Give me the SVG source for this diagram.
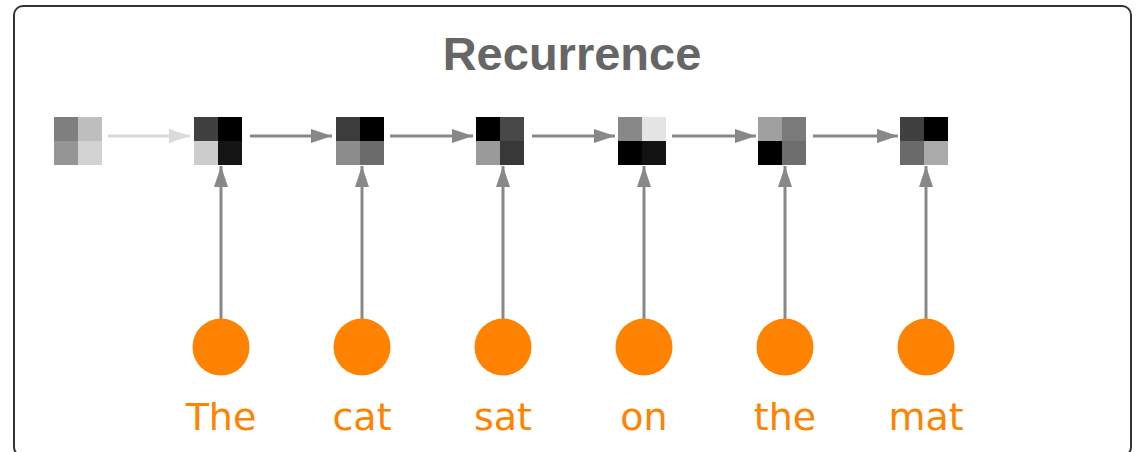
<svg xmlns="http://www.w3.org/2000/svg" width="1142" height="452" viewBox="0 0 1142 452">
  <style>
    .frame { fill: #ffffff; stroke: #333333; stroke-width: 2; }
    .title { font-family: "Liberation Sans", Arial, sans-serif; font-weight: bold; font-size: 47px; fill: #666666; text-anchor: middle; }
    .word { font-family: "DejaVu Sans", Verdana, sans-serif; font-size: 38px; fill: #ff8200; text-anchor: middle; }
    .token { fill: #ff8200; }
    .link { stroke: #888888; stroke-width: 3; fill: none; marker-end: url(#head); }
    .link-faint { stroke: #dadada; stroke-width: 3; fill: none; marker-end: url(#head-faint); }
  </style>
  <defs>
    <marker id="head" markerUnits="userSpaceOnUse" markerWidth="21" markerHeight="14" refX="21" refY="7" orient="auto">
      <path d="M0,0 L21,7 L0,14 Z" fill="#888888"/>
    </marker>
    <marker id="head-faint" markerUnits="userSpaceOnUse" markerWidth="21" markerHeight="14" refX="21" refY="7" orient="auto">
      <path d="M0,0 L21,7 L0,14 Z" fill="#dadada"/>
    </marker>
  </defs>

  <rect class="frame" x="14" y="6" width="1117" height="450" rx="9" ry="9"/>
  <text class="title" x="572" y="70">Recurrence</text>

  <!-- hidden states: 2x2 grey cells -->
  <g id="state0">
    <rect x="54" y="117" width="24" height="24" fill="#7f7f7f"/>
    <rect x="78" y="117" width="24" height="24" fill="#bebebe"/>
    <rect x="54" y="141" width="24" height="24" fill="#959595"/>
    <rect x="78" y="141" width="24" height="24" fill="#d2d2d2"/>
  </g>
  <g id="state1">
    <rect x="194" y="117" width="24" height="24" fill="#404040"/>
    <rect x="218" y="117" width="24" height="24" fill="#000000"/>
    <rect x="194" y="141" width="24" height="24" fill="#cccccc"/>
    <rect x="218" y="141" width="24" height="24" fill="#151515"/>
  </g>
  <g id="state2">
    <rect x="336" y="117" width="24" height="24" fill="#3c3c3c"/>
    <rect x="360" y="117" width="24" height="24" fill="#000000"/>
    <rect x="336" y="141" width="24" height="24" fill="#8c8c8c"/>
    <rect x="360" y="141" width="24" height="24" fill="#6c6c6c"/>
  </g>
  <g id="state3">
    <rect x="476" y="117" width="24" height="24" fill="#000000"/>
    <rect x="500" y="117" width="24" height="24" fill="#484848"/>
    <rect x="476" y="141" width="24" height="24" fill="#9a9a9a"/>
    <rect x="500" y="141" width="24" height="24" fill="#383838"/>
  </g>
  <g id="state4">
    <rect x="618" y="117" width="24" height="24" fill="#888888"/>
    <rect x="642" y="117" width="24" height="24" fill="#e4e4e4"/>
    <rect x="618" y="141" width="24" height="24" fill="#000000"/>
    <rect x="642" y="141" width="24" height="24" fill="#131313"/>
  </g>
  <g id="state5">
    <rect x="758" y="117" width="24" height="24" fill="#a0a0a0"/>
    <rect x="782" y="117" width="24" height="24" fill="#7a7a7a"/>
    <rect x="758" y="141" width="24" height="24" fill="#000000"/>
    <rect x="782" y="141" width="24" height="24" fill="#6e6e6e"/>
  </g>
  <g id="state6">
    <rect x="900" y="117" width="24" height="24" fill="#404040"/>
    <rect x="924" y="117" width="24" height="24" fill="#000000"/>
    <rect x="900" y="141" width="24" height="24" fill="#6a6a6a"/>
    <rect x="924" y="141" width="24" height="24" fill="#aaaaaa"/>
  </g>

  <!-- connectors -->
  <g id="connectors">
    <line class="link-faint" x1="108" y1="136" x2="190" y2="136"/>
    <line class="link" x1="250" y1="136" x2="332" y2="136"/>
    <line class="link" x1="390" y1="136" x2="473" y2="136"/>
    <line class="link" x1="532" y1="136" x2="615" y2="136"/>
    <line class="link" x1="672" y1="136" x2="756" y2="136"/>
    <line class="link" x1="813" y1="136" x2="898" y2="136"/>

    <line class="link" x1="221" y1="325" x2="221" y2="166"/>
    <line class="link" x1="362" y1="325" x2="362" y2="166"/>
    <line class="link" x1="503" y1="325" x2="503" y2="166"/>
    <line class="link" x1="644" y1="325" x2="644" y2="166"/>
    <line class="link" x1="785" y1="325" x2="785" y2="166"/>
    <line class="link" x1="926" y1="325" x2="926" y2="166"/>
  </g>

  <!-- input tokens -->
  <g id="word-The">
    <circle class="token" cx="221" cy="347" r="28.5"/>
    <text class="word" x="221" y="430">The</text>
  </g>
  <g id="word-cat">
    <circle class="token" cx="362" cy="347" r="28.5"/>
    <text class="word" x="362" y="430">cat</text>
  </g>
  <g id="word-sat">
    <circle class="token" cx="503" cy="347" r="28.5"/>
    <text class="word" x="503" y="430">sat</text>
  </g>
  <g id="word-on">
    <circle class="token" cx="644" cy="347" r="28.5"/>
    <text class="word" x="644" y="430">on</text>
  </g>
  <g id="word-the">
    <circle class="token" cx="785" cy="347" r="28.5"/>
    <text class="word" x="785" y="430">the</text>
  </g>
  <g id="word-mat">
    <circle class="token" cx="926" cy="347" r="28.5"/>
    <text class="word" x="926" y="430">mat</text>
  </g>
</svg>
